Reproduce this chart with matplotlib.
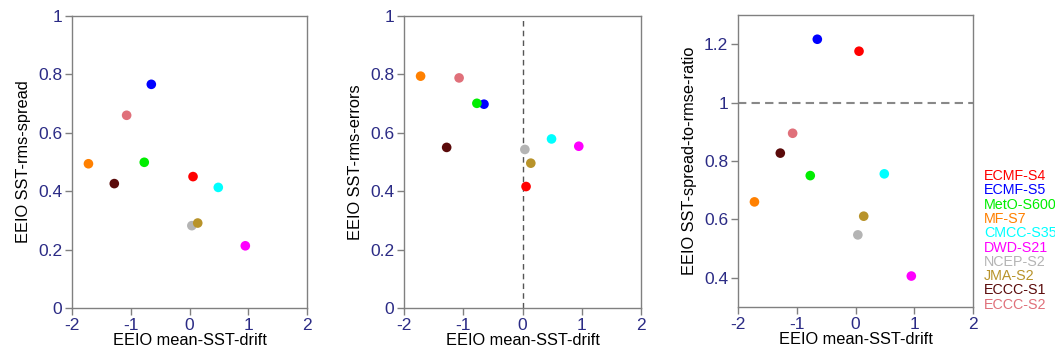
import numpy as np
import matplotlib
matplotlib.use("Agg")
import matplotlib.pyplot as plt

plt.rcParams['font.family'] = ['Liberation Sans', 'DejaVu Sans']

models = ["ECMF-S4", "ECMF-S5", "MetO-S600", "MF-S7", "CMCC-S35",
          "DWD-S21", "NCEP-S2", "JMA-S2", "ECCC-S1", "ECCC-S2"]
colors = ["#ff0000", "#0000ff", "#00ee00", "#ff8000", "#00ffff",
          "#ff00ff", "#b4b4b4", "#b8932a", "#5a0a0a", "#e0707a"]

# mean SST drift (x) shared by all panels
drift = [0.06, -0.65, -0.77, -1.72, 0.49, 0.95, 0.04, 0.14, -1.28, -1.07]
spread = [0.450, 0.766, 0.499, 0.494, 0.413, 0.213, 0.282, 0.291, 0.426, 0.660]
rmse = [0.416, 0.698, 0.701, 0.794, 0.579, 0.554, 0.543, 0.496, 0.550, 0.788]
ratio = [1.176, 1.217, 0.750, 0.660, 0.756, 0.406, 0.547, 0.611, 0.827, 0.895]

tick_col = "#2b2b85"
frame_col = "#808080"

fig = plt.figure(figsize=(10.55, 3.53), dpi=100)
W, H = 1055., 353.
boxes = [(72, 307, 16, 308), (404, 641, 16, 308), (738, 973, 15, 307)]
ydata = [spread, rmse, ratio]
ylabels = ["EEIO SST-rms-spread", "EEIO SST-rms-errors", "EEIO SST-spread-to-rmse-ratio"]
ylims = [(0, 1), (0, 1), (0.3, 1.3)]
yticks = [[0, 0.2, 0.4, 0.6, 0.8, 1], [0, 0.2, 0.4, 0.6, 0.8, 1], [0.4, 0.6, 0.8, 1, 1.2]]

axes = []
for i, (l, r, t, b) in enumerate(boxes):
    ax = fig.add_axes([l / W, 1 - b / H, (r - l) / W, (b - t) / H])
    axes.append(ax)
    ax.scatter(drift, ydata[i], c=colors, s=48, zorder=3, linewidths=0)
    ax.set_xlim(-2, 2)
    ax.set_ylim(*ylims[i])
    ax.set_xticks([-2, -1, 0, 1, 2])
    ax.set_xticklabels(["-2", "-1", "0", "1", "2"])
    ax.set_yticks(yticks[i])
    ax.set_yticklabels(["%g" % v for v in yticks[i]])
    ax.tick_params(direction="out", length=5, width=1, color=frame_col,
                   labelcolor=tick_col, labelsize=12.5, pad=2)
    for sp in ax.spines.values():
        sp.set_color(frame_col)
        sp.set_linewidth(1)
    ax.set_xlabel("EEIO mean-SST-drift", fontsize=11.8, labelpad=0)
    ax.set_ylabel(ylabels[i], fontsize=11.8, labelpad=5)

axes[1].axvline(0, color="#555555", ls=(0, (4, 3)), lw=1, zorder=1)
axes[2].axhline(1, color="#888888", ls=(0, (4, 2.5)), lw=1.5, zorder=1)

for k, (m, c) in enumerate(zip(models, colors)):
    fig.text(984 / W, 1 - (176 + k * 14.3) / H, m, color=c, fontsize=10.3,
             va="center", ha="left")

fig.savefig("out.png", dpi=100)
